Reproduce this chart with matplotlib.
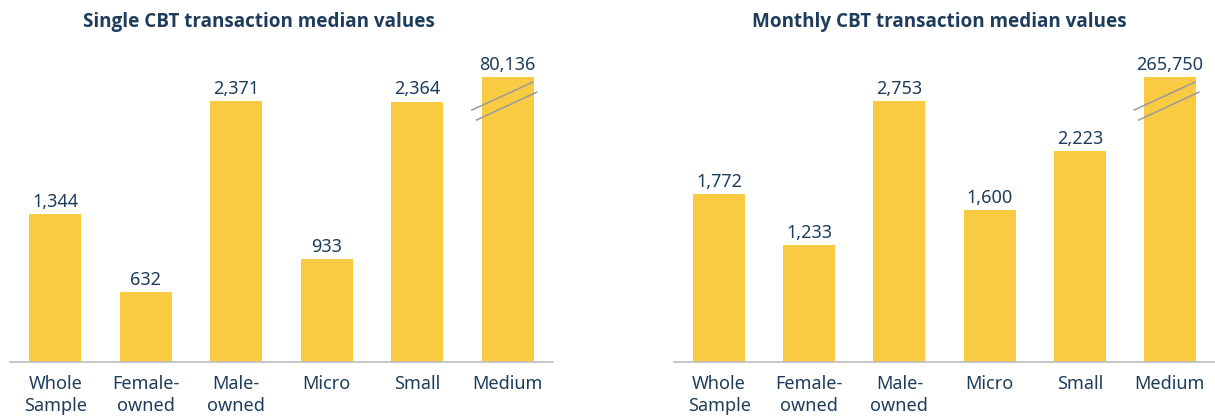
import matplotlib
matplotlib.use("Agg")
import matplotlib.pyplot as plt
import numpy as np

categories = ["Whole\nSample", "Female-\nowned", "Male-\nowned", "Micro", "Small", "Medium"]
single_values = [1344, 632, 2371, 933, 2364, 80136]
monthly_values = [1772, 1233, 2753, 1600, 2223, 265750]
titles = ["Single CBT transaction median values", "Monthly CBT transaction median values"]
broken_index = 5  # Medium bar drawn with axis break

BAR = "#F9CB43"
TXT = "#1E3D5C"
plt.rcParams["font.family"] = ["Noto Sans", "DejaVu Sans"]

fig = plt.figure(figsize=(12.15, 4.17), dpi=100)
ax_pos = [[10/1215, 55/417, 543/1215, 312/417], [674/1215, 55/417, 541/1215, 312/417]]
title_x = [259/1215, 939/1215]

for k, (vals, title) in enumerate(zip([single_values, monthly_values], titles)):
    ax = fig.add_axes(ax_pos[k])
    x = np.arange(len(categories))
    others = [v for i, v in enumerate(vals) if i != broken_index]
    cap = max(others) * 1.092
    heights = [cap if i == broken_index else v for i, v in enumerate(vals)]
    w = 0.575
    ax.bar(x, heights, width=w, color=BAR, zorder=2)
    for i, (h, v) in enumerate(zip(heights, vals)):
        ax.annotate(f"{v:,}", (x[i], h), xytext=(0, 2.5), textcoords="offset points",
                    ha="center", va="bottom", fontsize=13, color=TXT)
    # break marks
    xb = x[broken_index]
    hb = heights[broken_index]
    ax.plot([xb - 0.69*w, xb + 0.48*w], [0.884*hb, 0.982*hb], color="#9A9A9A", lw=1.1, zorder=3)
    ax.plot([xb - 0.60*w, xb + 0.56*w], [0.849*hb, 0.947*hb], color="#9A9A9A", lw=1.1, zorder=3)
    ax.set_xlim(-0.5, len(categories) - 0.5)
    ax.set_ylim(0, max(others) * 312 / 261)
    ax.set_xticks(x)
    ax.set_xticklabels(categories, fontsize=13, color=TXT, linespacing=1.3)
    ax.tick_params(axis="x", length=0, pad=9.5)
    ax.set_yticks([])
    for s in ["top", "right", "left"]:
        ax.spines[s].set_visible(False)
    ax.spines["bottom"].set_color("#BDBDBD")
    ax.spines["bottom"].set_linewidth(1.2)
    fig.text(title_x[k], 1 - 22/417, title, ha="center", va="center",
             fontsize=13.6, fontweight="bold", color=TXT,
             family=["Open Sans", "DejaVu Sans"])

fig.savefig("out.png", dpi=100)
